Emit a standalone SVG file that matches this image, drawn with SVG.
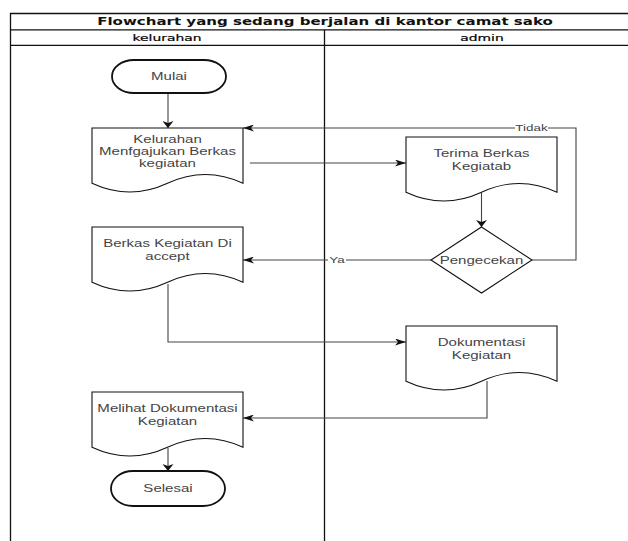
<svg xmlns="http://www.w3.org/2000/svg" width="628" height="541" viewBox="0 0 628 541">
  <style>
    .lane { fill: none; stroke: #111; stroke-width: 1.3; }
    .shape { fill: #fff; stroke: #111; stroke-width: 1.1; }
    .term { fill: #fff; stroke: #111; stroke-width: 1.8; }
    .edge { fill: none; stroke: #444; stroke-width: 1.1; }
    .t { font-family: "Liberation Sans", Arial, sans-serif; font-size: 10.3px; fill: #444; text-anchor: middle; }
    .lbl { font-family: "Liberation Sans", Arial, sans-serif; font-size: 9.2px; fill: #444; text-anchor: middle; }
    .title { font-family: "DejaVu Sans", Verdana, sans-serif; font-size: 10.3px; font-weight: bold; fill: #111; text-anchor: middle; }
    .head { font-family: "DejaVu Sans", Verdana, sans-serif; font-size: 9.5px; fill: #000; text-anchor: middle; stroke: #000; stroke-width: 0.2; }
  </style>
  <defs>
    <marker id="arrH" markerUnits="userSpaceOnUse" viewBox="0 0 11 7" refX="11" refY="3.5" markerWidth="11" markerHeight="7" orient="auto">
      <path d="M11,3.5 L0,0 L3,3.5 L0,7 Z" fill="#111"/>
    </marker>
    <marker id="arrV" markerUnits="userSpaceOnUse" viewBox="0 0 7 11" refX="7" refY="5.5" markerWidth="7" markerHeight="11" orient="auto">
      <path d="M7,5.5 L0,0 L2,5.5 L0,11 Z" fill="#111"/>
    </marker>
  </defs>
  <rect width="628" height="541" fill="#fff"/>

  <!-- swimlane pool -->
  <g id="pool">
    <path class="lane" d="M10.5,560 L10.5,13.5 L640,13.5"/>
    <path class="lane" d="M10.5,29.8 L640,29.8"/>
    <path class="lane" d="M10.5,45.3 L640,45.3"/>
    <path class="lane" d="M324.5,29.8 L324.5,560" stroke-width="1.6"/>
    <text class="title" transform="translate(325,25.2) scale(1.46,1)">Flowchart yang sedang berjalan di kantor camat sako</text>
    <text class="head" transform="translate(167,41) scale(1.46,1)">kelurahan</text>
    <text class="head" transform="translate(482,41) scale(1.46,1)">admin</text>
  </g>

  <!-- connectors -->
  <g id="edges">
    <path class="edge" d="M168,94 L168,128" stroke="#111" marker-end="url(#arrV)"/>
    <path class="edge" d="M250,163 L406,163" marker-end="url(#arrH)"/>
    <path class="edge" d="M481.5,193 L481.5,227" stroke="#111" marker-end="url(#arrV)"/>
    <path class="edge" d="M532,260 L576,260 L576,128 L243,128" marker-end="url(#arrH)"/>
    <path class="edge" d="M431,260 L243,260" marker-end="url(#arrH)"/>
    <path class="edge" d="M168,284 L168,342 L406,342" marker-end="url(#arrH)"/>
    <path class="edge" d="M487,381 L487,418 L243,418" marker-end="url(#arrH)"/>
    <path class="edge" d="M168,448 L168,471" stroke="#111" marker-end="url(#arrV)"/>
    <rect x="515" y="122" width="33" height="12" fill="#fff"/>
    <text class="lbl" transform="translate(531.5,131.3) scale(1.46,1)">Tidak</text>
    <rect x="328" y="254" width="18" height="12" fill="#fff"/>
    <text class="lbl" transform="translate(337,263.3) scale(1.46,1)">Ya</text>
  </g>

  <g id="mulai">
    <rect class="term" x="112" y="60" width="114" height="33" rx="22" ry="16.5"/>
    <text class="t" transform="translate(169,80.2) scale(1.46,1)">Mulai</text>
  </g>

  <g id="ajukan">
    <path class="shape" d="M92,128 L243,128 L243,183.25 Q205.25,165.7 167.5,183.25 Q129.75,200.8 92,183.25 Z"/>
    <text class="t" transform="translate(167.5,142.7) scale(1.46,1)"><tspan x="0">Kelurahan</tspan><tspan x="0" dy="12.3">Menfgajukan Berkas</tspan><tspan x="0" dy="12.3">kegiatan</tspan></text>
  </g>

  <g id="terima">
    <path class="shape" d="M406,137 L557,137 L557,192.25 Q519.25,174.7 481.5,192.25 Q443.75,209.8 406,192.25 Z"/>
    <text class="t" transform="translate(481.5,157.4) scale(1.46,1)"><tspan x="0">Terima Berkas</tspan><tspan x="0" dy="12.3">Kegiatab</tspan></text>
  </g>

  <g id="pengecekan">
    <polygon class="shape" points="481.5,227 532,260 481.5,293 431,260"/>
    <text class="t" transform="translate(481.5,263.6) scale(1.46,1)">Pengecekan</text>
  </g>

  <g id="accept">
    <path class="shape" d="M92,227 L243,227 L243,282.25 Q205.25,264.7 167.5,282.25 Q129.75,299.8 92,282.25 Z"/>
    <text class="t" transform="translate(167.5,247.4) scale(1.46,1)"><tspan x="0">Berkas Kegiatan Di</tspan><tspan x="0" dy="12.3">accept</tspan></text>
  </g>

  <g id="dokumentasi">
    <path class="shape" d="M406,326 L557,326 L557,381.25 Q519.25,363.7 481.5,381.25 Q443.75,398.8 406,381.25 Z"/>
    <text class="t" transform="translate(481.5,346.4) scale(1.46,1)"><tspan x="0">Dokumentasi</tspan><tspan x="0" dy="12.3">Kegiatan</tspan></text>
  </g>

  <g id="melihat">
    <path class="shape" d="M92,392 L243,392 L243,447.25 Q205.25,429.7 167.5,447.25 Q129.75,464.8 92,447.25 Z"/>
    <text class="t" transform="translate(167.5,412.4) scale(1.46,1)"><tspan x="0">Melihat Dokumentasi</tspan><tspan x="0" dy="12.3">Kegiatan</tspan></text>
  </g>

  <g id="selesai">
    <rect class="term" x="111" y="471" width="114" height="35" rx="22" ry="17.5"/>
    <text class="t" transform="translate(168,492.3) scale(1.46,1)">Selesai</text>
  </g>
</svg>
